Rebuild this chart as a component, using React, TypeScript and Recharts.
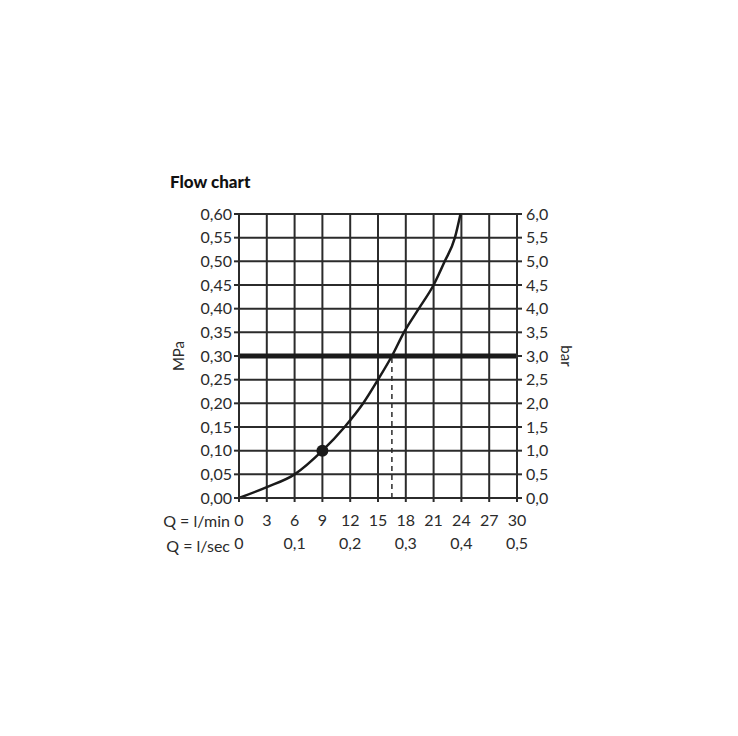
import {
  LineChart,
  Line,
  XAxis,
  YAxis,
  CartesianGrid,
  ReferenceLine,
  ReferenceDot,
  Label,
} from "recharts"

// flow in l/min and the matching pressure in MPa
const flowLmin = [0, 3, 6, 9, 11.4, 13.4, 15, 16.5, 17.8, 19.4, 21.0, 22.2, 23.3, 23.9]
const pressureMPa = [0, 0.023, 0.05, 0.1, 0.15, 0.2, 0.25, 0.3, 0.35, 0.4, 0.45, 0.5, 0.55, 0.6]

const minTicks = [0, 3, 6, 9, 12, 15, 18, 21, 24, 27, 30]
const secTicks = [0, 6, 12, 18, 24, 30]
const mpaTicks = [0, 0.05, 0.1, 0.15, 0.2, 0.25, 0.3, 0.35, 0.4, 0.45, 0.5, 0.55, 0.6]
const barTicks = [0, 0.5, 1, 1.5, 2, 2.5, 3, 3.5, 4, 4.5, 5, 5.5, 6]

const operatingPressure = 0.3
const operatingFlow = 16.5
const markerFlow = 9
const markerPressure = 0.1

const INK = "#2b2b2b"
const FONT = "Lato, 'Open Sans', sans-serif"

const data = flowLmin.map((q, i) => ({ q, p: pressureMPa[i] }))

const comma = (v: number, digits: number) => v.toFixed(digits).replace(".", ",")

const tickStyle = { fill: INK, fontSize: 16, fontFamily: FONT }

export default function App() {
  return (
    <div style={{ position: "absolute", left: 0, top: 0, width: 738, height: 736, background: "#fff" }}>
      <div
        style={{
          position: "absolute",
          left: 170,
          top: 171,
          fontFamily: FONT,
          fontWeight: 900,
          fontSize: 17,
          color: "#111",
        }}
      >
        Flow chart
      </div>
      <LineChart
        width={738}
        height={736}
        data={data}
        margin={{ top: 214, right: 161, bottom: 178, left: 179 }}
      >
        <CartesianGrid xAxisId="min" yAxisId="mpa" stroke={INK} strokeWidth={2} />
        <XAxis
          xAxisId="min"
          dataKey="q"
          type="number"
          domain={[0, 30]}
          ticks={minTicks}
          interval={0}
          height={30}
          tickSize={4}
          tickMargin={13}
          stroke={INK}
          strokeWidth={2}
          tick={tickStyle}
        >
          <Label
            content={({ viewBox }: any) => (
              <text
                x={viewBox.x - 9}
                y={viewBox.y + 29}
                textAnchor="end"
                fill={INK}
                fontSize={16}
                fontFamily={FONT}
              >
                Q = l/min
              </text>
            )}
          />
        </XAxis>
        <XAxis
          xAxisId="sec"
          dataKey="q"
          type="number"
          domain={[0, 30]}
          ticks={secTicks}
          interval={0}
          height={30}
          tickLine={false}
          axisLine={false}
          tickMargin={4}
          tick={tickStyle}
          tickFormatter={(v: number) => (v === 0 ? "0" : comma(v / 60, 1))}
        >
          <Label
            content={({ viewBox }: any) => (
              <text
                x={viewBox.x - 9}
                y={viewBox.y + 24}
                textAnchor="end"
                fill={INK}
                fontSize={16}
                fontFamily={FONT}
              >
                Q = l/sec
              </text>
            )}
          />
        </XAxis>
        <YAxis
          yAxisId="mpa"
          orientation="left"
          domain={[0, 0.6]}
          ticks={mpaTicks}
          interval={0}
          width={60}
          tickSize={5}
          tickMargin={2}
          stroke={INK}
          strokeWidth={2}
          tick={tickStyle}
          tickFormatter={(v: number) => comma(v, 2)}
        >
          <Label
            content={({ viewBox }: any) => (
              <text
                x={viewBox.x + 5}
                y={viewBox.y + viewBox.height / 2}
                transform={`rotate(-90 ${viewBox.x + 5} ${viewBox.y + viewBox.height / 2})`}
                textAnchor="middle"
                fill={INK}
                fontSize={15}
                fontFamily={FONT}
              >
                MPa
              </text>
            )}
          />
        </YAxis>
        <YAxis
          yAxisId="bar"
          orientation="right"
          type="number"
          domain={[0, 6]}
          allowDataOverflow
          ticks={barTicks}
          interval={0}
          width={60}
          tickSize={5}
          tickMargin={4}
          stroke={INK}
          strokeWidth={2}
          tick={tickStyle}
          tickFormatter={(v: number) => comma(v, 1)}
        >
          <Label
            content={({ viewBox }: any) => (
              <text
                x={viewBox.x + 44}
                y={viewBox.y + viewBox.height / 2}
                transform={`rotate(90 ${viewBox.x + 44} ${viewBox.y + viewBox.height / 2})`}
                textAnchor="middle"
                fill={INK}
                fontSize={15}
                fontFamily={FONT}
              >
                bar
              </text>
            )}
          />
        </YAxis>
        <ReferenceLine
          xAxisId="min"
          yAxisId="mpa"
          y={operatingPressure}
          stroke="#1a1a1a"
          strokeWidth={5}
        />
        <ReferenceLine
          xAxisId="min"
          yAxisId="mpa"
          segment={[
            { x: operatingFlow, y: 0 },
            { x: operatingFlow, y: operatingPressure },
          ]}
          stroke={INK}
          strokeWidth={1.5}
          strokeDasharray="5 4"
        />
        <Line
          xAxisId="min"
          yAxisId="mpa"
          dataKey="p"
          type="monotone"
          stroke="#1a1a1a"
          strokeWidth={2.5}
          dot={false}
          isAnimationActive={false}
        />
        <ReferenceDot
          xAxisId="min"
          yAxisId="mpa"
          x={markerFlow}
          y={markerPressure}
          r={6}
          fill="#1a1a1a"
          stroke="none"
        />
      </LineChart>
    </div>
  )
}
